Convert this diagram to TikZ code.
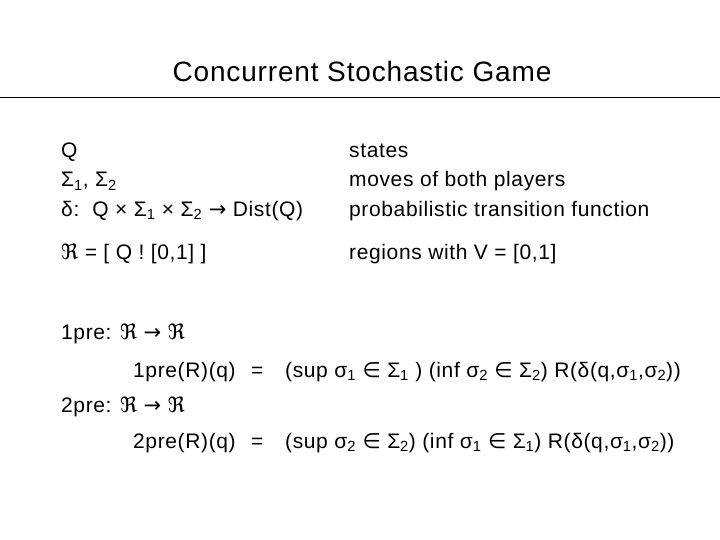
\documentclass[tikz,border=0pt]{standalone}
\usepackage{fontspec}
\setmainfont{Liberation Sans}[LetterSpace=3]
\newfontfamily\sym{DejaVu Sans}
\usetikzlibrary{positioning}
\tikzstyle{txt} = [anchor=base west, inner sep=0pt, font=\fontsize{21}{24}\selectfont]
\newcommand{\sub}[1]{\textsubscript{#1}}
\newcommand{\regs}{{\sym ℜ}}
\newcommand{\elem}{{\sym ∈}}
\newcommand{\rarr}{{\sym →}}
\begin{document}
\begin{tikzpicture}[x=1pt, y=-1pt]
		\useasboundingbox (0,0) rectangle (720,540);
		\node (Title) [anchor=base, inner sep=0pt, font=\fontsize{28}{30}\selectfont] at (362,82) {Concurrent Stochastic Game};
		\coordinate (RuleLeft) at (0,97);
		\coordinate (RuleRight) at (720,97);
		\draw[line width=0.8pt] (RuleLeft) -- (RuleRight);

		% left column
		\node (States) [txt] at (61,158) {Q};
		\node (Moves) [txt] at (61,187) {Σ\sub{1}, Σ\sub{2}};
		\node (Trans) [txt] at (61,216) {δ:\ \ Q × Σ\sub{1} × Σ\sub{2} \rarr\ Dist(Q)};
		\node (Regions) [txt] at (61,259) {\regs\ = [ Q ! [0,1] ]};

		% right column
		\node (StatesTxt) [txt] at (349,158) {states};
		\node (MovesTxt) [txt] at (349,187) {moves of both players};
		\node (TransTxt) [txt] at (349,216) {probabilistic transition function};
		\node (RegionsTxt) [txt] at (349,259) {regions with V = [0,1]};

		% predecessor operators
		\node (OnePre) [txt] at (61,339) {1pre: \regs\ \rarr\ \regs};
		\node (OnePreL) [txt] at (133,377) {1pre(R)(q)};
		\node (OnePreEq) [txt] at (251,377) {=};
		\node (OnePreR) [txt] at (285,377) {(sup σ\sub{1} \elem\ Σ\sub{1} ) (inf σ\sub{2} \elem\ Σ\sub{2}) R(δ(q,σ\sub{1},σ\sub{2}))};
		\node (TwoPre) [txt] at (61,412) {2pre: \regs\ \rarr\ \regs};
		\node (TwoPreL) [txt] at (133,448) {2pre(R)(q)};
		\node (TwoPreEq) [txt] at (251,448) {=};
		\node (TwoPreR) [txt] at (285,448) {(sup σ\sub{2} \elem\ Σ\sub{2}) (inf σ\sub{1} \elem\ Σ\sub{1}) R(δ(q,σ\sub{1},σ\sub{2}))};
\end{tikzpicture}
\end{document}
